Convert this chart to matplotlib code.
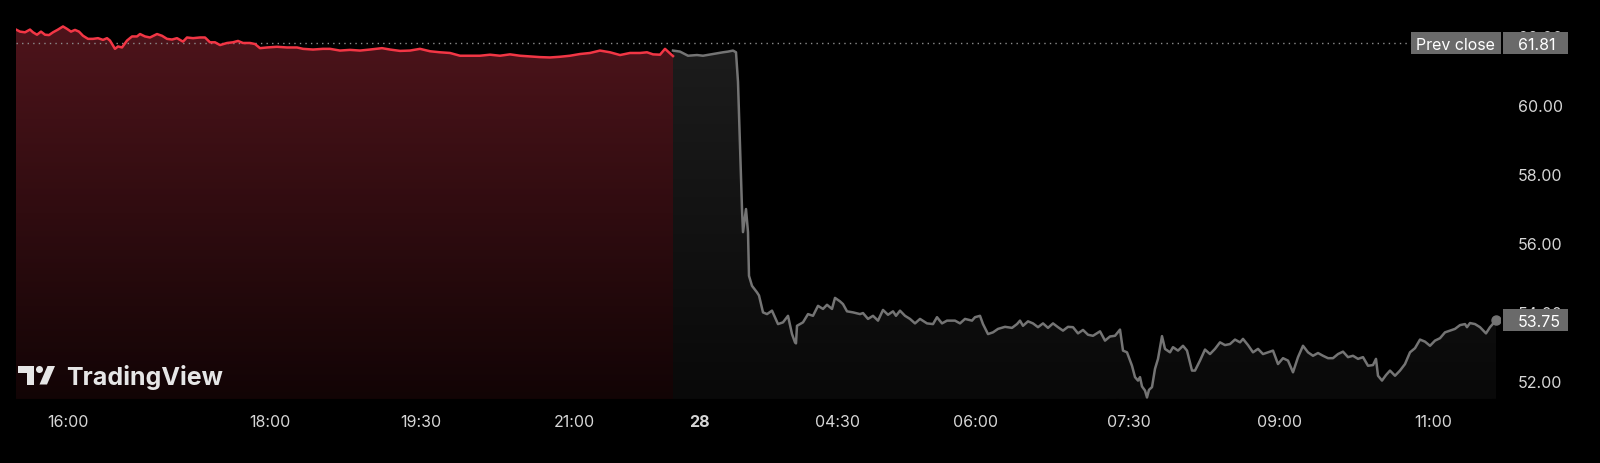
import numpy as np
import matplotlib.pyplot as plt
from matplotlib.patches import Polygon, Circle, Rectangle
from matplotlib.colors import LinearSegmentedColormap
from matplotlib.transforms import IdentityTransform

plt.rcParams['font.family'] = ['Inter', 'DejaVu Sans']

# regular session (red), bar index and price
session_bars = [0, 4, 9, 14, 17, 21, 25, 29, 33, 37, 42, 47, 51, 55, 59, 63, 67, 72, 77, 82,
                87, 91, 94, 99, 102, 106, 111, 116, 121, 124, 129, 134, 141, 146, 151, 156, 161, 167, 171, 177,
                184, 189, 194, 199, 204, 211, 217, 222, 227, 234, 239, 244, 251, 261, 271, 281, 287, 297, 307, 314,
                324, 334, 344, 354, 366, 374, 384, 394, 404, 414, 424, 434, 444, 454, 464, 474, 484, 494, 504, 514,
                524, 534, 544, 554, 564, 574, 584, 594, 604, 614, 624, 631, 637, 644, 649, 657]
session_prices = [62.19, 62.13, 62.11, 62.19, 62.11, 62.04, 62.13, 62.04, 62.03, 62.11, 62.19, 62.28, 62.21, 62.13, 62.18, 62.13, 62.01, 61.92, 61.92, 61.94,
                  61.89, 61.94, 61.87, 61.63, 61.70, 61.67, 61.87, 61.99, 61.99, 62.06, 61.99, 61.96, 62.06, 62.01, 61.92, 61.90, 61.94, 61.84, 61.96, 61.94,
                  61.96, 61.96, 61.82, 61.82, 61.74, 61.80, 61.82, 61.86, 61.80, 61.80, 61.77, 61.65, 61.67, 61.69, 61.67, 61.67, 61.63, 61.61, 61.63, 61.63,
                  61.58, 61.60, 61.58, 61.61, 61.65, 61.61, 61.57, 61.58, 61.63, 61.56, 61.53, 61.51, 61.43, 61.43, 61.43, 61.46, 61.43, 61.47, 61.43, 61.41,
                  61.39, 61.38, 61.40, 61.43, 61.48, 61.51, 61.58, 61.53, 61.45, 61.51, 61.51, 61.53, 61.47, 61.46, 61.63, 61.42]

# extended hours (grey)
ext_bars = [657, 664, 672, 681, 687, 697, 707, 712, 717, 720, 722, 724, 726, 727, 730, 732, 733, 736, 741, 743,
            747, 751, 756, 762, 767, 772, 776, 779, 780, 781, 787, 792, 797, 802, 807, 811, 816, 819, 824, 827,
            831, 837, 844, 847, 852, 857, 862, 867, 872, 877, 880, 884, 889, 894, 899, 904, 911, 917, 921, 926,
            931, 939, 944, 949, 956, 959, 964, 967, 972, 977, 982, 989, 996, 1001, 1004, 1007, 1012, 1017, 1022, 1027,
            1032, 1037, 1042, 1047, 1052, 1057, 1062, 1067, 1072, 1077, 1084, 1089, 1094, 1099, 1104, 1107, 1111, 1116, 1119, 1122,
            1124, 1126, 1129, 1131, 1133, 1136, 1139, 1142, 1146, 1149, 1154, 1157, 1162, 1167, 1171, 1176, 1179, 1184, 1189, 1194,
            1199, 1204, 1209, 1214, 1219, 1224, 1227, 1232, 1237, 1242, 1247, 1252, 1257, 1262, 1267, 1272, 1277, 1282, 1287, 1292,
            1297, 1302, 1307, 1312, 1317, 1322, 1327, 1332, 1337, 1342, 1347, 1352, 1357, 1360, 1362, 1366, 1370, 1374, 1379, 1384,
            1389, 1394, 1399, 1404, 1409, 1414, 1419, 1424, 1429, 1434, 1439, 1444, 1449, 1451, 1454, 1459, 1464, 1470, 1474, 1480]
ext_prices = [61.58, 61.55, 61.43, 61.45, 61.43, 61.48, 61.53, 61.55, 61.58, 61.53, 60.67, 58.82, 56.98, 56.31, 56.98, 56.31, 55.04, 54.75, 54.56, 54.47,
              53.98, 53.93, 54.03, 53.64, 53.69, 53.88, 53.35, 53.11, 53.08, 53.59, 53.69, 53.93, 53.88, 54.17, 54.08, 54.20, 54.08, 54.40, 54.30, 54.22,
              54.01, 53.98, 53.93, 53.96, 53.79, 53.88, 53.74, 54.05, 53.91, 54.01, 53.88, 54.03, 53.88, 53.79, 53.66, 53.79, 53.66, 53.64, 53.84, 53.66,
              53.74, 53.74, 53.66, 53.79, 53.74, 53.84, 53.88, 53.64, 53.35, 53.40, 53.50, 53.56, 53.53, 53.64, 53.74, 53.59, 53.72, 53.66, 53.55, 53.66,
              53.53, 53.66, 53.55, 53.45, 53.56, 53.55, 53.37, 53.47, 53.33, 53.30, 53.43, 53.16, 53.28, 53.30, 53.48, 52.87, 52.82, 52.43, 52.10, 52.00,
              52.10, 51.83, 51.71, 51.51, 51.73, 51.81, 52.34, 52.63, 53.29, 52.92, 52.82, 52.97, 52.87, 53.01, 52.87, 52.29, 52.29, 52.58, 52.90, 52.77,
              52.92, 53.11, 53.03, 53.06, 53.19, 53.11, 53.21, 53.03, 52.82, 52.92, 52.77, 52.82, 52.87, 52.48, 52.65, 52.58, 52.24, 52.68, 53.01, 52.82,
              52.72, 52.80, 52.72, 52.65, 52.65, 52.77, 52.84, 52.68, 52.72, 52.63, 52.68, 52.43, 52.45, 52.63, 52.14, 52.00, 52.16, 52.29, 52.14, 52.29,
              52.48, 52.82, 52.94, 53.19, 53.13, 53.01, 53.16, 53.23, 53.40, 53.45, 53.50, 53.61, 53.64, 53.55, 53.67, 53.64, 53.55, 53.37, 53.55, 53.75]

prev_close = 61.81
last_price = 53.75

tick_bars = [52, 254, 405, 558, 683, 821, 960, 1113, 1264, 1417]
tick_labels = ["16:00", "18:00", "19:30", "21:00", "28", "04:30", "06:00", "07:30", "09:00", "11:00"]
price_ticks = [52, 54, 56, 58, 60, 62]

RED = '#f23645'
GREY = '#747474'
TXT = '#d6d6d6'
BOX = '#6a6a6a'


# area under a line with a vertical colour gradient, clipped to the area shape
def gradientFill(ax, x, y, topColor, bottomColor, floor):
    x = np.asarray(x)
    y = np.asarray(y)
    verts = np.column_stack([np.r_[x[0], x, x[-1]], np.r_[floor, y, floor]])
    patch = Polygon(verts, closed=True, facecolor='none', edgecolor='none')
    ax.add_patch(patch)
    cmap = LinearSegmentedColormap.from_list('grad', [bottomColor, topColor])
    grad = np.linspace(0, 1, 256).reshape(-1, 1)
    im = ax.imshow(grad, aspect='auto', cmap=cmap, origin='lower',
                   extent=[x[0], x[-1], floor, y.max()], zorder=1)
    im.set_clip_path(patch)


# grey price tag on the right scale: box in axes-x / data-y
def priceTag(ax, x0, width, price, label, textX, ha):
    ytr = ax.get_yaxis_transform()
    ax.add_patch(Rectangle((x0, price - 0.32), width, 0.64, transform=ytr, fc=BOX, ec='none',
                           clip_on=False, zorder=6))
    ax.text(textX, price, label, transform=ytr, ha=ha, va='center_baseline', fontsize=11.5,
            color='white', clip_on=False, zorder=7)


fig = plt.figure(figsize=(16, 4.64), dpi=100, facecolor='black')
ax = fig.add_axes([0.01, 0.138, 0.9275, 0.862])
ax.set_facecolor('black')

ymin, ymax = 51.466, 63.077
ax.set_xlim(0, 1484)
ax.set_ylim(ymin, ymax)

gradientFill(ax, session_bars, session_prices, '#4e141b', '#120405', ymin)
gradientFill(ax, ext_bars, ext_prices, '#1c1c1c', '#090909', ymin)

ax.plot(session_bars, session_prices, color=RED, lw=1.8, zorder=3, solid_joinstyle='round')
ax.plot(ext_bars, ext_prices, color=GREY, lw=1.8, zorder=3, solid_joinstyle='round')
ax.plot(ext_bars[-1], ext_prices[-1], 'o', color=GREY, ms=6.5, zorder=4)

ax.axhline(prev_close, color='#8c8c8c', ls=(0, (1, 3)), lw=1, zorder=2)

for s in ax.spines.values():
    s.set_visible(False)

ax.set_xticks(tick_bars)
ax.set_xticklabels(tick_labels)
ax.tick_params(axis='x', length=0, pad=11, labelsize=11.5, labelcolor=TXT)
ax.get_xticklabels()[4].set_fontweight('bold')

ax.yaxis.tick_right()
ax.set_yticks(price_ticks)
ax.set_yticklabels(["%.2f" % p for p in price_ticks])
ax.tick_params(axis='y', length=0, pad=13, labelsize=11.5, labelcolor=TXT)

# tags: prev close label + value, last price
priceTag(ax, 0.9400, 0.0606, prev_close, "Prev close", 0.9697, 'center')
priceTag(ax, 1.0020, 0.0440, prev_close, "%.2f" % prev_close, 1.0121, 'left')
priceTag(ax, 1.0020, 0.0440, last_price, "%.2f" % last_price, 1.0121, 'left')

# TradingView logo, in pixel coordinates (y up)
H = 464
logoColor = '#e6e6e6'
tr = IdentityTransform()
fig.patches.append(Polygon([(18, H - 367), (33.5, H - 367), (33.5, H - 385.5), (26.5, H - 385.5),
                            (26.5, H - 374), (18, H - 374)], closed=True, fc=logoColor, ec='none', transform=tr))
fig.patches.append(Circle((39.5, H - 370.5), 3.5, fc=logoColor, ec='none', transform=tr))
fig.patches.append(Polygon([(39.5, H - 385.5), (47, H - 385.5), (55, H - 367), (47.5, H - 367)],
                           closed=True, fc=logoColor, ec='none', transform=tr))
fig.text(66 / 1600, 1 - 385.5 / H, "TradingView", fontsize=18, fontweight='bold',
         color=logoColor, ha='left', va='baseline')

fig.savefig('out.png', dpi=100, facecolor='black')
